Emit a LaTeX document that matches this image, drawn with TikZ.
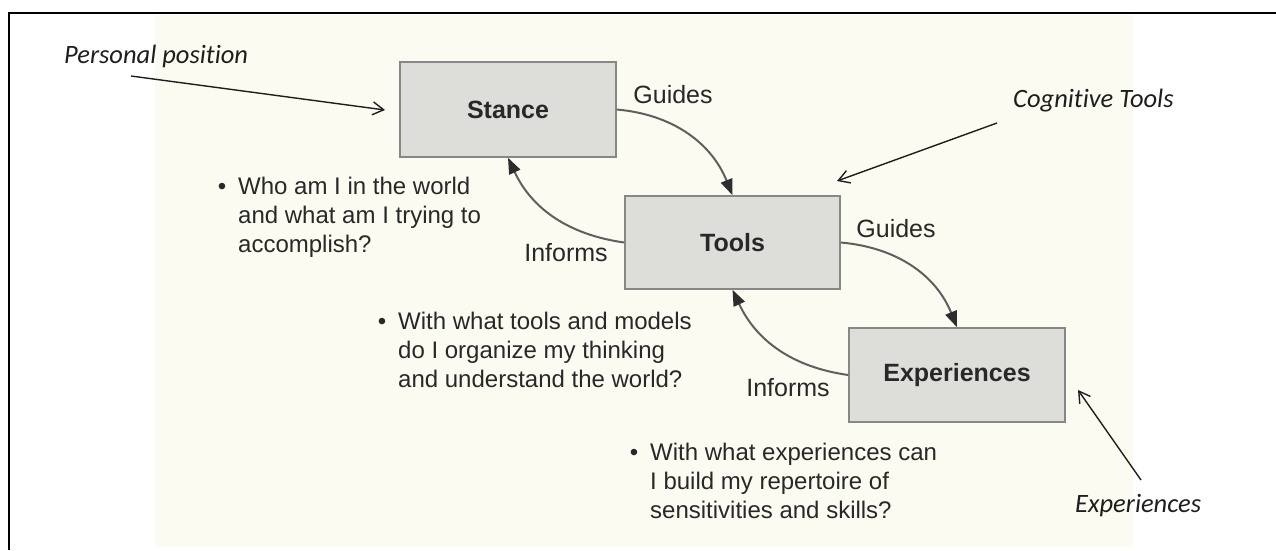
\documentclass[tikz,border=0pt]{standalone}
\usepackage{fontspec}
\setmainfont{Liberation Sans}
\newfontfamily\notefont[Ligatures=NoCommon]{Carlito}
\usetikzlibrary{arrows.meta}

\definecolor{paper}{RGB}{252,251,242}
\definecolor{boxfill}{RGB}{221,221,218}
\definecolor{boxline}{RGB}{135,135,135}
\definecolor{ink}{RGB}{40,40,40}
\definecolor{flowgray}{RGB}{95,95,95}
\definecolor{tipgray}{RGB}{45,45,45}
\definecolor{noteink}{RGB}{30,30,30}

\begin{document}
\begin{tikzpicture}[x=1pt,y=1pt,
  box/.style={draw=boxline, line width=1.5pt, fill=boxfill, inner sep=0pt,
    text=ink, font=\bfseries\fontsize{25}{30}\selectfont},
  lbl/.style={inner sep=0pt, text=ink, font=\fontsize{25}{30}\selectfont},
  bul/.style={anchor=north west, inner sep=0pt, text=ink, font=\fontsize{24}{29}\selectfont},
  note/.style={anchor=base west, inner sep=0pt, text=noteink,
    font=\notefont\itshape\fontsize{26.5}{30}\selectfont},
  flow/.style={draw=flowgray, line width=2pt,
    -{Triangle[length=16pt,width=12pt,color=tipgray]}},
  pointer/.style={draw=noteink, line width=1.4pt,
    -{Straight Barb[length=11pt,width=13pt]}}]

\useasboundingbox (0,0) rectangle (1276,-550);

% page background and frame
\fill[paper] (155,-15) rectangle (1133,-547);
\draw[line width=2.5pt] (1276,-13) -- (9,-13) -- (9,-550);

% the three stages
\node[box, minimum width=216pt, minimum height=95pt] (stance) at (508,-109.5) {Stance};
\node[box, minimum width=215pt, minimum height=93pt] (tools) at (732.5,-242.5) {Tools};
\node[box, minimum width=216pt, minimum height=94pt] (experiences) at (957,-375) {Experiences};

% cycle arrows
\draw[flow] (stance.east) to[out=-5,in=112] (tools.north);
\draw[flow] (tools.west) to[out=172,in=-65] (stance.south);
\draw[flow] (tools.east) to[out=-5,in=112] (experiences.north);
\draw[flow] (experiences.west) to[out=172,in=-65] (tools.south);

% arrow labels
\node[lbl] (g1) at (673,-95) {Guides};
\node[lbl] (i1) at (566,-253) {Informs};
\node[lbl] (g2) at (896,-229) {Guides};
\node[lbl] (i2) at (788,-388) {Informs};

% guiding questions
\node[bul] (q1) at (217.6,-173.7) {\begin{tabular}{@{}l@{\hspace{12pt}}l@{}}
  \textbullet & Who am I in the world\\
  & and what am I trying to\\
  & accomplish?\end{tabular}};
\node[bul] (q2) at (377.6,-308.7) {\begin{tabular}{@{}l@{\hspace{12pt}}l@{}}
  \textbullet & With what tools and models\\
  & do I organize my thinking\\
  & and understand the world?\end{tabular}};
\node[bul] (q3) at (629.6,-439.7) {\begin{tabular}{@{}l@{\hspace{12pt}}l@{}}
  \textbullet & With what experiences can\\
  & I build my repertoire of\\
  & sensitivities and skills?\end{tabular}};

% side notes (kern keeps "t" and "i" as separate glyphs)
\node[note] (pp) at (64,-63) {Personal position};
\node[note] (ct) at (1013,-107) {Cognit\kern0pt ive Tools};
\node[note] (ex) at (1075,-512) {Experiences};

\coordinate (pp-a) at (131,-76);
\coordinate (pp-b) at (385,-110);
\coordinate (ct-a) at (997,-123);
\coordinate (ct-b) at (837,-181);
\coordinate (ex-a) at (1141,-480);
\coordinate (ex-b) at (1078,-390);
\draw[pointer] (pp-a) -- (pp-b);
\draw[pointer] (ct-a) -- (ct-b);
\draw[pointer] (ex-a) -- (ex-b);

\end{tikzpicture}
\end{document}
